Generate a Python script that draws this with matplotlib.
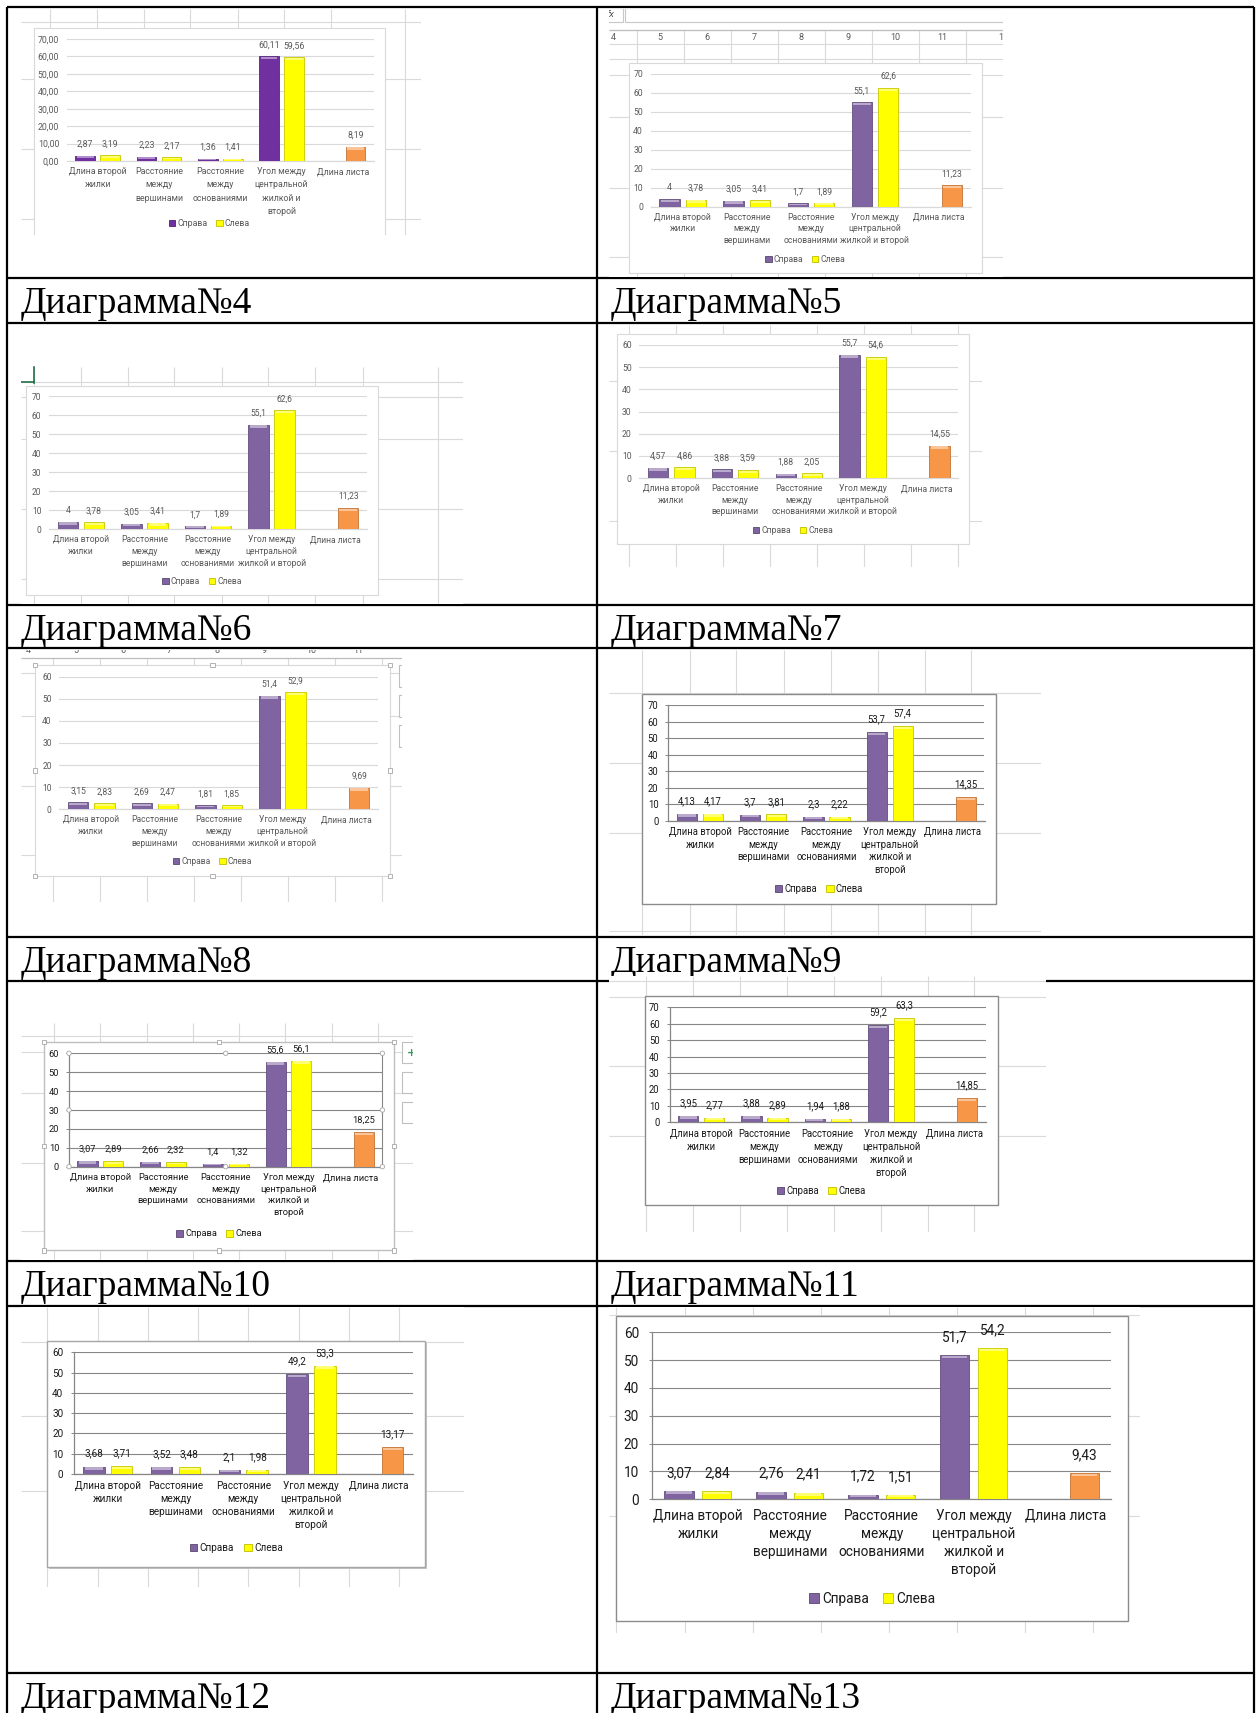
import matplotlib
matplotlib.use("Agg")
import matplotlib.pyplot as plt
from matplotlib.patches import Rectangle, Patch, Circle
import numpy as np

# Page size in pixels, drawn at dpi=100
W, H = 1256, 1713

# ---- data -------------------------------------------------------------
cats_4lines = ["Длина второй\nжилки", "Расстояние\nмежду\nвершинами",
               "Расстояние\nмежду\nоснованиями",
               "Угол между\nцентральной\nжилкой и\nвторой", "Длина листа"]
cats_3lines = ["Длина второй\nжилки", "Расстояние\nмежду\nвершинами",
               "Расстояние\nмежду\nоснованиями",
               "Угол между\nцентральной\nжилкой и второй", "Длина листа"]
series_names = ["Справа", "Слева"]

# "Справа" has no value for leaf length, "Слева" carries it (orange point)
sprava_4 = [2.87, 2.23, 1.36, 60.11]
sleva_4 = [3.19, 2.17, 1.41, 59.56, 8.19]
sprava_5 = [4, 3.05, 1.7, 55.1]
sleva_5 = [3.78, 3.41, 1.89, 62.6, 11.23]
sprava_6 = [4, 3.05, 1.7, 55.1]
sleva_6 = [3.78, 3.41, 1.89, 62.6, 11.23]
sprava_7 = [4.57, 3.88, 1.88, 55.7]
sleva_7 = [4.86, 3.59, 2.05, 54.6, 14.55]
sprava_8 = [3.15, 2.69, 1.81, 51.4]
sleva_8 = [2.83, 2.47, 1.85, 52.9, 9.69]
sprava_9 = [4.13, 3.7, 2.3, 53.7]
sleva_9 = [4.17, 3.81, 2.22, 57.4, 14.35]
sprava_10 = [3.07, 2.66, 1.4, 55.6]
sleva_10 = [2.89, 2.32, 1.32, 56.1, 18.25]
sprava_11 = [3.95, 3.88, 1.94, 59.2]
sleva_11 = [2.77, 2.89, 1.88, 63.3, 14.85]
sprava_12 = [3.68, 3.52, 2.1, 49.2]
sleva_12 = [3.71, 3.48, 1.98, 53.3, 13.17]
sprava_13 = [3.07, 2.76, 1.72, 51.7]
sleva_13 = [2.84, 2.41, 1.51, 54.2, 9.43]

diagram_numbers = [4, 5, 6, 7, 8, 9, 10, 11, 12, 13]
column_headers = ["4", "5", "6", "7", "8", "9", "10", "11", "1"]

DATA = {4: (sprava_4, sleva_4), 5: (sprava_5, sleva_5), 6: (sprava_6, sleva_6),
        7: (sprava_7, sleva_7), 8: (sprava_8, sleva_8), 9: (sprava_9, sleva_9),
        10: (sprava_10, sleva_10), 11: (sprava_11, sleva_11),
        12: (sprava_12, sleva_12), 13: (sprava_13, sleva_13)}

# ---- layout (pixel coordinates on the page) ----------------------------
LAYOUT = {
    4: dict(sheet=(21, 8.5, 421, 235), vlines=[49.8, 96.6, 143.7, 190.4, 237.5, 284.3, 330.7, 405.4],
            hlines=[21.7, 79.3, 149.3, 219], box=(33.7, 28.3, 385, 245),
            plot=(67, 39, 373.6, 161), ymax=70, legend_y=223.7, fs=6.3, style="light",
            wrap=4, decimals=2, purple="#7030a0", ls=1.6),
    5: dict(sheet=(608.6, 8.5, 1002.7, 277), vlines=[636.9, 683.7, 730.8, 778, 824.8, 872, 919.2, 966],
            vtop=30, hlines=[44, 59.3, 75, 117.3, 187.7, 257.3], box=(628.9, 63.3, 981.6, 273.3),
            plot=(650.8, 74, 971, 206.7), ymax=70, legend_y=259.3, fs=6.2, style="light", wrap=3,
            header_y=37, header_x=[612.9, 660, 707, 754, 801, 848, 895, 942, 1000.5], formula=True),
    6: dict(sheet=(21, 325, 462.5, 603.5), vlines=[33.7, 80.5, 127.6, 174.3, 221.5, 268.2, 315.3, 362.5, 438],
            vtop=366.7, hlines=[381.7, 397.3, 439.3, 509.3, 579], box=(26, 386, 378, 595.3),
            plot=(49, 396.3, 367, 529.3), ymax=70, legend_y=581.7, fs=6.15, style="light", wrap=3,
            cursor=True),
    7: dict(sheet=(608.6, 325, 981.6, 566.7), vlines=[628.9, 676, 723.3, 770, 817.2, 864.4, 911.2, 958.4],
            hlines=[381, 451, 521], box=(617, 334.3, 969, 544.3),
            plot=(639.4, 345, 958.4, 478), ymax=60, legend_y=530.7, fs=6.2, style="light", wrap=3),
    8: dict(sheet=(21, 650, 401.5, 902.3), vlines=[52.5, 99.6, 146.7, 193.5, 240.6, 287.7, 334.9, 381.6],
            vtop=657.7, hlines=[673.3, 715.7, 785.7, 855], box=(35.2, 665, 390, 875.7),
            plot=(59.4, 676.7, 378, 809.3), ymax=60, legend_y=861.7, fs=6.15, style="light", wrap=3,
            header_y=650.5, header_x=[28.7, 75.5, 122.6, 169.7, 216.9, 264.4, 311, 358],
            handles=True, buttons=[(665, 686.7), (695, 716.7), (725, 746.7)], button_x=398.5),
    9: dict(sheet=(608.6, 650, 1041.4, 935), vlines=[642.4, 689.6, 736.3, 783.5, 830.7, 877.5, 924.7, 971],
            hlines=[693.3, 763.3, 833.3, 931], box=(642.4, 694, 995.5, 904),
            plot=(668.5, 705.3, 984.5, 820.7), ymax=70, legend_y=889.3, fs=6.85, style="dark", wrap=4,
            ls=1.3),
    10: dict(sheet=(21, 1023.3, 413, 1259.5), vlines=[53.6, 100.4, 146.7, 192.7, 239.5, 285.4, 331.8, 378.2],
             hlines=[1036, 1051.7, 1092.7, 1162.7, 1231], box=(44, 1041.7, 393.9, 1250.3),
             plot=(69, 1053.3, 382.4, 1166.7), ymax=60, legend_y=1234, fs=6.65, style="dark", wrap=4,
             handles=True, plot_handles=True, box_ec="#bfbfbf",
             buttons=[(1041.7, 1063), (1071.7, 1093), (1101.7, 1123)], button_x=402.5),
    11: dict(sheet=(608.6, 976, 1046, 1231.7), vlines=[645.7, 692.9, 740.1, 786.9, 834.1, 881.3, 928, 974.4],
             hlines=[981, 996.7, 1066, 1136], box=(644.5, 996, 997.6, 1205),
             plot=(669.7, 1007.3, 985.8, 1122.3), ymax=70, legend_y=1191, fs=6.85, style="dark", wrap=4),
    12: dict(sheet=(21, 1307, 463.6, 1586.7), vlines=[47.1, 97.7, 147.5, 198, 248.3, 298.9, 348.7, 399.2],
             hlines=[1341.7, 1416, 1490.7], box=(47.1, 1340.7, 425.3, 1566.7),
             plot=(73.9, 1352.3, 412.6, 1474), ymax=60, legend_y=1547.7, fs=7.2, style="dark", wrap=4,
             shadow=True, box_ec="#a6a6a6"),
    13: dict(sheet=(608.6, 1307, 1139.6, 1633.3), vlines=[616.2, 684.5, 752.8, 820.6, 888.9, 957.1, 1025, 1093.3],
             hlines=[1315, 1415.7, 1516], box=(616.2, 1315.7, 1127.8, 1620.7),
             plot=(652, 1332.3, 1111.4, 1499.3), ymax=60, legend_y=1599, fs=9.8, style="dark", wrap=4),
}

# caption rows: top line y of each caption row
ROW_TOPS = [278.3, 604.5, 936.7, 1260.7, 1673.3]
TABLE_HLINES = [6.7, 278.3, 323, 604.5, 648.3, 936.7, 981, 1260.7, 1305.7, 1673.3]
TABLE_VLINES = [6.9, 597, 1254]

PURPLE = "#8064a2"
YELLOW = "#ffff00"
ORANGE = "#f79646"
SHEET_GRID = "#dadada"
CHART_FONT = ["Roboto", "DejaVu Sans"]


def px_axes(fig, x0, y0, x1, y1):
    return fig.add_axes([x0 / W, 1 - y1 / H, (x1 - x0) / W, (y1 - y0) / H])


def shade(color, f):
    c = np.array(matplotlib.colors.to_rgb(color))
    if f < 0:
        return tuple(c * (1 + f))
    return tuple(c + (1 - c) * f)


def fmt_value(v, decimals):
    s = f"{v:.{decimals}f}" if decimals else f"{v:g}"
    return s.replace(".", ",")


def pixel_canvas(fig, x0, y0, x1, y1):
    ax = px_axes(fig, x0, y0, x1, y1)
    ax.set_xlim(x0, x1)
    ax.set_ylim(y1, y0)
    ax.axis("off")
    ax.patch.set_alpha(0)
    return ax


def draw_sheet(fig, lay):
    x0, y0, x1, y1 = lay["sheet"]
    ax = pixel_canvas(fig, x0, y0, x1, y1)
    ax.add_patch(Rectangle((x0, y0), x1 - x0, y1 - y0, fc="white", ec="none", zorder=0))
    ax.vlines(lay["vlines"], lay.get("vtop", y0), y1, color=SHEET_GRID, lw=0.8, zorder=1)
    ax.hlines(lay["hlines"], x0, x1, color=SHEET_GRID, lw=0.8, zorder=1)

    # column header row and formula bar of the spreadsheet
    if "header_x" in lay:
        for lab, hx in zip(column_headers, lay["header_x"]):
            ax.text(hx, lay["header_y"], lab, fontsize=6.5, color="#595959", ha="center",
                    va="center", family=CHART_FONT, clip_on=True, zorder=2)
        if lay.get("formula"):
            ax.add_patch(Rectangle((600, 7.5), 23, 14.5, fc="white", ec="#c8c8c8", lw=0.8, zorder=2))
            ax.add_patch(Rectangle((624.5, 7.5), 390, 14.5, fc="white", ec="#c8c8c8", lw=0.8, zorder=2))
            ax.text(610, 14.5, "fx", fontsize=6, style="italic", color="#444444", ha="center",
                    va="center", clip_on=True, zorder=3)
            ax.hlines([30], x0, x1, color=SHEET_GRID, lw=0.8, zorder=1)
        ax.hlines([lay.get("vtop", y0)], x0, x1, color="#bdbdbd", lw=0.9, zorder=1)

    if lay.get("cursor"):
        ax.plot([x0, 33.7], [381.7, 381.7], color="#217346", lw=1.2, zorder=3)
        ax.plot([33.7, 33.7], [367, 383], color="#217346", lw=1.2, zorder=3)

    # floating chart buttons (cut by the screenshot edge)
    for by0, by1 in lay.get("buttons", []):
        ax.add_patch(Rectangle((lay["button_x"], by0), 30, by1 - by0, fc="white", ec="#bfbfbf",
                               lw=0.8, zorder=2))
    if lay.get("plot_handles"):
        ax.text(411.5, 1052.5, "+", fontsize=8, color="#3a9a5b", ha="center", va="center",
                fontweight="bold", clip_on=True, zorder=3)

    # chart area
    bx0, by0, bx1, by1 = lay["box"]
    dark = lay["style"] == "dark"
    if lay.get("shadow"):
        ax.add_patch(Rectangle((bx0 + 2, by0 + 2.5), bx1 - bx0, by1 - by0, fc="#c6c6c6",
                               ec="none", zorder=3))
    ec = lay.get("box_ec", "#8c8c8c" if dark else "#d9d9d9")
    ax.add_patch(Rectangle((bx0, by0), bx1 - bx0, by1 - by0, fc="white", ec=ec,
                           lw=1.0 if dark else 0.8, zorder=4))
    return ax


def draw_handles(fig, lay):
    x0, y0, x1, y1 = lay["sheet"]
    ax = pixel_canvas(fig, x0, y0, x1, y1)
    bx0, by0, bx1, by1 = lay["box"]
    for hx in (bx0, (bx0 + bx1) / 2, bx1):
        for hy in (by0, (by0 + by1) / 2, by1):
            if hx == (bx0 + bx1) / 2 and hy == (by0 + by1) / 2:
                continue
            ax.add_patch(Rectangle((hx - 2.2, hy - 2.2), 4.4, 4.4, fc="white", ec="#a6a6a6",
                                   lw=0.6, zorder=5))
    if lay.get("plot_handles"):
        px0, py0, px1, py1 = lay["plot"]
        for hx in (px0, (px0 + px1) / 2, px1):
            for hy in (py0, (py0 + py1) / 2, py1):
                if hx == (px0 + px1) / 2 and hy == (py0 + py1) / 2:
                    continue
                ax.add_patch(Circle((hx, hy), 2.2, fc="white", ec="#a6a6a6", lw=0.6, zorder=5))


def draw_chart(fig, num):
    lay = LAYOUT[num]
    sprava, sleva = DATA[num]
    dark = lay["style"] == "dark"
    fs = lay["fs"]
    txt = "#1a1a1a" if dark else "#595959"
    grid = "#868686" if dark else "#d9d9d9"
    purple = lay.get("purple", PURPLE)
    decimals = lay.get("decimals", 0)

    draw_sheet(fig, lay)

    px0, py0, px1, py1 = lay["plot"]
    ax = px_axes(fig, px0, py0, px1, py1)
    ax.patch.set_alpha(0)
    ymax = lay["ymax"]
    ax.set_xlim(-0.5, 4.5)
    ax.set_ylim(0, ymax)

    x = np.arange(len(cats_4lines))
    width, off = 0.32, 0.205
    left_colors = [YELLOW] * 4 + [ORANGE]
    band = 3.0 / (py1 - py0) * ymax

    groups = [(x[:len(sprava)] - off, sprava, [purple] * len(sprava)),
              (x[:len(sleva)] + off, sleva, left_colors[:len(sleva)])]
    for xs, vals, cols in groups:
        vals = np.array(vals, dtype=float)
        ax.bar(xs, vals, width, color=cols, edgecolor=[shade(c, -0.22) for c in cols],
               lw=0.6, zorder=3)
        # light bevel strip at the top of each bar
        h = np.minimum(band, vals * 0.45)
        ax.bar(xs, h * 0.8, width * 0.86, bottom=vals - h, color=[shade(c, 0.45) for c in cols],
               lw=0, zorder=4)
        for xi, v in zip(xs, vals):
            ax.annotate(fmt_value(v, decimals), (xi, v), xytext=(0, 0.8 * fs),
                        textcoords="offset points", ha="center", va="bottom", fontsize=fs,
                        color=txt, family=CHART_FONT, zorder=5)

    # axes styling
    ticks = np.arange(0, ymax + 1, 10)
    ax.set_yticks(ticks)
    ax.set_yticklabels([fmt_value(t, decimals) for t in ticks], fontsize=fs, color=txt,
                       family=CHART_FONT)
    ax.yaxis.grid(True, color=grid, lw=0.8)
    ax.set_axisbelow(True)
    labels = cats_4lines if lay["wrap"] == 4 else cats_3lines
    ax.set_xticks(x)
    ax.set_xticklabels(labels, fontsize=fs, color=txt, family=CHART_FONT,
                       linespacing=lay.get("ls", 1.38))
    ax.tick_params(axis="x", length=0, pad=0.7 * fs)
    for side in ("top", "right", "left"):
        ax.spines[side].set_visible(False)
    ax.spines["bottom"].set_color(grid)
    ax.spines["bottom"].set_linewidth(0.9)
    if dark:
        ax.spines["left"].set_visible(True)
        ax.spines["left"].set_color(grid)
        ax.spines["left"].set_linewidth(0.9)
        ax.tick_params(axis="y", length=2.5, width=0.7, color=grid, pad=0.7 * fs)
        if lay.get("plot_handles"):
            ax.spines["right"].set_visible(True)
            ax.spines["right"].set_color(grid)
    else:
        ax.tick_params(axis="y", length=0, pad=0.9 * fs)

    # legend centred under the plot
    bx0, by0, bx1, by1 = lay["box"]
    handles = [Patch(facecolor=purple, edgecolor=shade(purple, -0.3), lw=0.6),
               Patch(facecolor=YELLOW, edgecolor=shade(YELLOW, -0.25), lw=0.6)]
    leg = ax.legend(handles, series_names, loc="center", ncol=2, frameon=False,
                    bbox_to_anchor=((bx0 + bx1) / 2 / W, 1 - lay["legend_y"] / H),
                    bbox_transform=fig.transFigure, handlelength=0.75,
                    handleheight=0.75, handletextpad=0.25, columnspacing=1.0,
                    borderaxespad=0, borderpad=0, prop={"family": CHART_FONT, "size": fs})
    for t in leg.get_texts():
        t.set_color(txt)

    if lay.get("handles"):
        draw_handles(fig, lay)


def main():
    fig = plt.figure(figsize=(W / 100, H / 100), dpi=100)
    fig.patch.set_facecolor("white")

    # 1. Page with the table grid and the captions
    page = pixel_canvas(fig, 0, 0, W, H)
    page.hlines(TABLE_HLINES, TABLE_VLINES[0], TABLE_VLINES[-1], color="black", lw=1.6, zorder=1)
    page.vlines(TABLE_VLINES, TABLE_HLINES[0], H, color="black", lw=1.6, zorder=1)
    for i, top in enumerate(ROW_TOPS):
        for j, tx in enumerate((21, 610.5)):
            num = diagram_numbers[2 * i + j]
            page.text(tx, top + 35, f"Диаграмма№{num}", fontsize=27, ha="left",
                      va="baseline", family=["Liberation Serif", "DejaVu Serif"], zorder=2)

    # 2. The ten Excel screenshots
    for num in diagram_numbers:
        draw_chart(fig, num)

    fig.savefig("out.png", dpi=100, facecolor="white")
    plt.close(fig)


if __name__ == "__main__":
    main()
